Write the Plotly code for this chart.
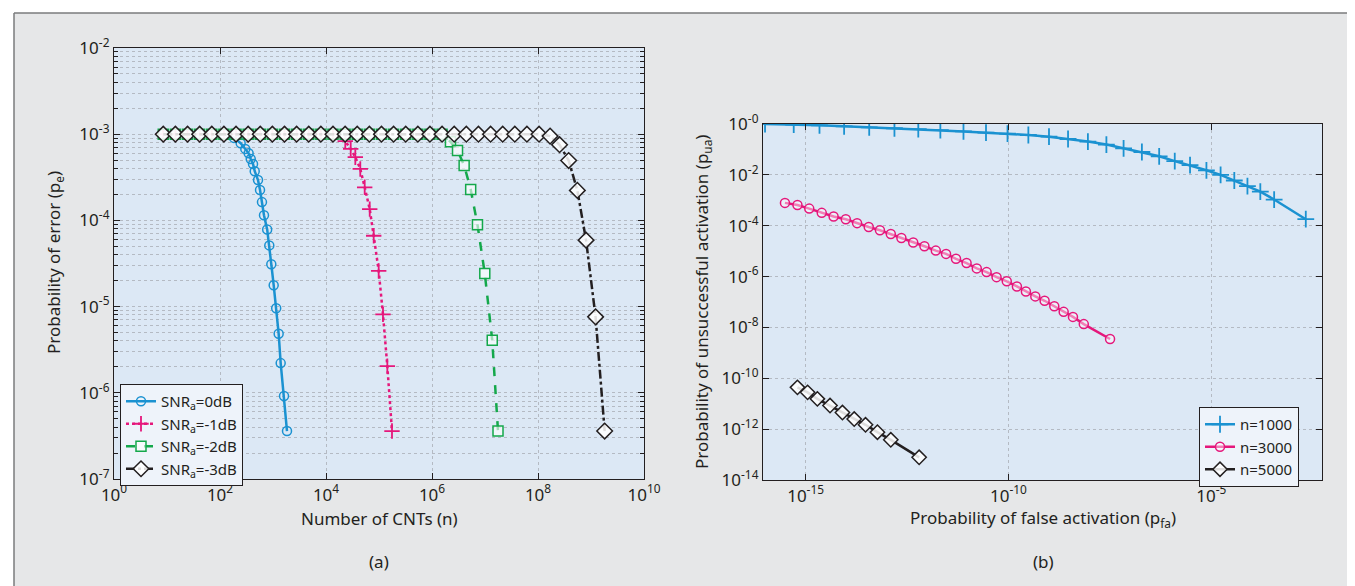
import plotly.graph_objects as go

# ---------------- data: panel (a) ----------------
n_snr0 = [8.5, 14.4, 24.4, 41.3, 70, 118.5,
          183.7, 245.5, 300, 346.7, 380, 419.8, 451.9, 521.2, 568.9, 619.4,
          676.1, 776.2, 851.1, 929, 1030, 1148, 1279, 1396, 1614, 1837]
pe_snr0 = [1e-3, 1e-3, 1e-3, 1e-3, 1e-3, 1e-3,
           9.06e-4, 7.85e-4, 6.75e-4, 6.01e-4, 5.16e-4, 4.52e-4, 3.72e-4, 2.94e-4,
           2.25e-4, 1.63e-4, 1.15e-4, 7.85e-5, 5.13e-5, 3.1e-5, 1.77e-5, 9.55e-6,
           4.85e-6, 2.21e-6, 9.16e-7, 3.6e-7]

n_snr1 = [8.5, 14.4, 24.4, 41.3, 70, 118.5, 200.6, 339.6, 575, 973, 1648, 2790,
          4724, 8000, 13550,
          23120, 29240, 35730, 44360, 53700, 66830, 79430, 98620, 118900, 143600, 175800]
pe_snr1 = [1e-3, 1e-3, 1e-3, 1e-3, 1e-3, 1e-3, 1e-3, 1e-3, 1e-3, 1e-3, 1e-3, 1e-3,
           1e-3, 1e-3, 1e-3,
           8.3e-4, 6.75e-4, 5.41e-4, 3.95e-4, 2.42e-4, 1.35e-4, 6.64e-5, 2.6e-5,
           8.13e-6, 2.04e-6, 3.6e-7]

n_snr2 = [8.5, 14.4, 24.4, 41.3, 70, 118.5, 200.6, 339.6, 575, 973, 1648, 2790,
          4724, 8000, 13550, 22950, 38800, 65800, 111400, 188400, 319200, 540800,
          914000, 1.549e6,
          2.23e6, 3.03e6, 4.04e6, 5.37e6, 7.21e6, 9.91e6, 1.37e7, 1.76e7]
pe_snr2 = [1e-3, 1e-3, 1e-3, 1e-3, 1e-3, 1e-3, 1e-3, 1e-3, 1e-3, 1e-3, 1e-3, 1e-3,
           1e-3, 1e-3, 1e-3, 1e-3, 1e-3, 1e-3, 1e-3, 1e-3, 1e-3, 1e-3,
           1e-3, 1e-3,
           8.18e-4, 6.49e-4, 4.34e-4, 2.29e-4, 8.9e-5, 2.42e-5, 4.06e-6, 3.6e-7]

n_snr3 = [8.5, 14.4, 24.4, 41.3, 70, 118.5, 200.6, 339.6, 575, 973, 1648, 2790,
          4724, 8000, 13550, 22950, 38800, 65800, 111400, 188400, 319200, 540800,
          914000, 1.549e6, 2.624e6, 4.44e6, 7.52e6, 1.274e7, 2.157e7, 3.65e7,
          6.18e7, 1.047e8,
          1.69e8, 2.55e8, 3.79e8, 5.53e8, 8.07e8, 1.22e9, 1.81e9]
pe_snr3 = [1e-3, 1e-3, 1e-3, 1e-3, 1e-3, 1e-3, 1e-3, 1e-3, 1e-3, 1e-3, 1e-3, 1e-3,
           1e-3, 1e-3, 1e-3, 1e-3, 1e-3, 1e-3, 1e-3, 1e-3, 1e-3, 1e-3,
           1e-3, 1e-3, 1e-3, 1e-3, 1e-3, 1e-3, 1e-3, 1e-3,
           1e-3, 1e-3,
           9.5e-4, 7.55e-4, 4.95e-4, 2.23e-4, 5.9e-5, 7.6e-6, 3.6e-7]

labels_a = ["SNR<sub>a</sub>=0dB", "SNR<sub>a</sub>=-1dB",
            "SNR<sub>a</sub>=-2dB", "SNR<sub>a</sub>=-3dB"]
xticks_a = [1e0, 1e2, 1e4, 1e6, 1e8, 1e10]
xticktext_a = ["10<sup>0</sup>", "10<sup>2</sup>", "10<sup>4</sup>",
               "10<sup>6</sup>", "10<sup>8</sup>", "10<sup>10</sup>"]
yticks_a = [1e-7, 1e-6, 1e-5, 1e-4, 1e-3, 1e-2]
yticktext_a = ["10<sup>-7</sup>", "10<sup>-6</sup>", "10<sup>-5</sup>",
               "10<sup>-4</sup>", "10<sup>-3</sup>", "10<sup>-2</sup>"]

# ---------------- data: panel (b) ----------------
pfa_n1000 = [1.0e-16, 5.1e-16, 2.2e-15, 8.9e-15, 3.7e-14, 1.55e-13, 6.0e-13, 2.1e-12,
             7.8e-12, 2.8e-11, 9.5e-11, 3.1e-10, 1.0e-9, 2.95e-9, 9.1e-9, 2.6e-8,
             6.9e-8, 1.95e-7, 5.2e-7, 1.26e-6, 3.0e-6, 7.6e-6, 1.7e-5, 3.7e-5,
             7.8e-5, 1.62e-4, 3.55e-4, 2.14e-3]
pua_n1000 = [1.0, 0.955, 0.89, 0.81, 0.74, 0.68, 0.63, 0.575, 0.51, 0.457, 0.417,
             0.37, 0.316, 0.257, 0.204, 0.155, 0.11, 0.0794, 0.0537, 0.0347, 0.024,
             0.0151, 0.01, 6.0e-3, 3.6e-3, 2.2e-3, 1.07e-3, 1.8e-4]

pfa_n3000 = [3.1e-16, 6.3e-16, 1.23e-15, 2.5e-15, 4.9e-15, 9.8e-15, 1.86e-14, 3.6e-14,
             6.8e-14, 1.26e-13, 2.3e-13, 4.5e-13, 8.5e-13, 1.62e-12, 2.9e-12, 5.1e-12,
             9.3e-12, 1.66e-11, 2.9e-11, 5.1e-11, 9.1e-11, 1.62e-10, 2.7e-10, 4.6e-10,
             7.8e-10, 1.35e-9, 2.3e-9, 3.9e-9, 7.2e-9, 3.2e-8]
pua_n3000 = [7.9e-4, 6.5e-4, 4.7e-4, 3.2e-4, 2.3e-4, 1.8e-4, 1.26e-4, 8.9e-5, 6.6e-5,
             4.7e-5, 3.3e-5, 2.2e-5, 1.55e-5, 1.05e-5, 7.8e-6, 5.0e-6, 3.4e-6, 2.1e-6,
             1.5e-6, 9.5e-7, 6.5e-7, 4.1e-7, 2.6e-7, 1.66e-7, 1.12e-7, 6.8e-8, 4.1e-8,
             2.6e-8, 1.35e-8, 3.5e-9]

pfa_n5000 = [6.3e-16, 1.12e-15, 1.95e-15, 4.0e-15, 8.1e-15, 1.58e-14, 3.0e-14, 5.9e-14,
             1.26e-13, 6.3e-13]
pua_n5000 = [4.4e-11, 2.8e-11, 1.55e-11, 8.5e-12, 4.5e-12, 2.5e-12, 1.48e-12, 7.6e-13,
             3.8e-13, 7.8e-14]

labels_b = ["n=1000", "n=3000", "n=5000"]
xticks_b = [1e-15, 1e-10, 1e-5]
xticktext_b = ["10<sup>-15</sup>", "10<sup>-10</sup>", "10<sup>-5</sup>"]
yticks_b = [1e-14, 1e-12, 1e-10, 1e-8, 1e-6, 1e-4, 1e-2, 1e0]
yticktext_b = ["10<sup>-14</sup>", "10<sup>-12</sup>", "10<sup>-10</sup>",
               "10<sup>-8</sup>", "10<sup>-6</sup>", "10<sup>-4</sup>",
               "10<sup>-2</sup>", "10<sup>-0</sup>"]

# ---------------- styling ----------------
W, H = 1355, 586
FONT = "Noto Sans"
TXT = "#231f20"
BLUE = "#1b92d1"
PINK = "#e5177b"
GREEN = "#14a84b"
BLACK = "#231f20"
PLOT_BG = "#dce8f5"
FIG_BG = "#e6e7e8"
GRID = "#b4bac3"

def px(x):
    return x / W

def py(y):
    return 1 - y / H

fig = go.Figure()

# panel (a)
fig.add_trace(go.Scatter(
    x=n_snr0, y=pe_snr0, name=labels_a[0], mode="lines+markers",
    line=dict(color=BLUE, width=2.5),
    marker=dict(symbol="circle-open", size=9, color=BLUE, line=dict(width=1.5)),
    xaxis="x", yaxis="y", legend="legend"))
fig.add_trace(go.Scatter(
    x=n_snr1, y=pe_snr1, name=labels_a[1], mode="lines+markers",
    line=dict(color=PINK, width=2.5, dash="dot"),
    marker=dict(symbol="cross-thin-open", size=11, color=PINK, line=dict(width=1.8, color=PINK)),
    xaxis="x", yaxis="y", legend="legend"))
fig.add_trace(go.Scatter(
    x=n_snr2, y=pe_snr2, name=labels_a[2], mode="lines+markers",
    line=dict(color=GREEN, width=2.5, dash="dash"),
    marker=dict(symbol="square", size=10, color="rgba(255,255,255,0.6)",
                line=dict(width=1.5, color=GREEN)),
    xaxis="x", yaxis="y", legend="legend"))
fig.add_trace(go.Scatter(
    x=n_snr3, y=pe_snr3, name=labels_a[3], mode="lines+markers",
    line=dict(color=BLACK, width=2.5, dash="dashdot"),
    marker=dict(symbol="diamond", size=12, color="rgba(255,255,255,0.85)",
                line=dict(width=1.5, color=BLACK)),
    xaxis="x", yaxis="y", legend="legend"))

# panel (b)
fig.add_trace(go.Scatter(
    x=pfa_n1000, y=pua_n1000, name=labels_b[0], mode="lines+markers",
    line=dict(color=BLUE, width=2.5),
    marker=dict(symbol="cross-thin-open", size=12, color=BLUE, line=dict(width=1.8, color=BLUE)),
    xaxis="x2", yaxis="y2", legend="legend2"))
fig.add_trace(go.Scatter(
    x=pfa_n3000, y=pua_n3000, name=labels_b[1], mode="lines+markers",
    line=dict(color=PINK, width=2.5),
    marker=dict(symbol="circle", size=9, color="rgba(255,255,255,0.45)",
                line=dict(width=1.5, color=PINK)),
    xaxis="x2", yaxis="y2", legend="legend2"))
fig.add_trace(go.Scatter(
    x=pfa_n5000, y=pua_n5000, name=labels_b[2], mode="lines+markers",
    line=dict(color=BLACK, width=2.5),
    marker=dict(symbol="diamond", size=11, color="rgba(255,255,255,0.85)",
                line=dict(width=1.5, color=BLACK)),
    xaxis="x2", yaxis="y2", legend="legend2"))

tickfont = dict(family=FONT, size=17, color=TXT)
common = dict(type="log", showline=True, linecolor=BLACK, linewidth=1.3,
              mirror="allticks", ticks="inside", ticklen=6, tickcolor=BLACK,
              tickwidth=1.2, showgrid=True, gridcolor=GRID, griddash="dot",
              gridwidth=1, zeroline=False, tickfont=tickfont, tickmode="array",
              automargin=False)

minor_a = [m * 10.0 ** e for e in range(-7, -2) for m in range(2, 10)]

fig.update_layout(
    width=W, height=H, margin=dict(l=0, r=0, t=0, b=0, pad=0, autoexpand=False),
    paper_bgcolor=FIG_BG, plot_bgcolor=PLOT_BG,
    font=dict(family=FONT, size=17, color=TXT),
    xaxis=dict(common, domain=[px(106), px(636)], range=[0, 10], anchor="y",
               tickvals=xticks_a, ticktext=xticktext_a),
    yaxis=dict(common, domain=[py(471), py(40)], range=[-7, -2], anchor="x",
               tickvals=yticks_a, ticktext=yticktext_a,
               minor=dict(tickmode="array", tickvals=minor_a, ticks="inside",
                          ticklen=4, tickcolor=BLACK, showgrid=True,
                          gridcolor=GRID, griddash="dot", gridwidth=1)),
    xaxis2=dict(common, domain=[px(755), px(1314)], range=[-16.05, -2.27], anchor="y2",
                tickvals=xticks_b, ticktext=xticktext_b),
    yaxis2=dict(common, domain=[py(472), py(116)], range=[-14, 0], anchor="x2",
                tickvals=yticks_b, ticktext=yticktext_b),
    legend=dict(x=px(112), y=py(376), xanchor="left", yanchor="top",
                bgcolor="#eef3fa", bordercolor=BLACK, borderwidth=1,
                font=dict(family=FONT, size=15, color=TXT),
                tracegroupgap=0, itemwidth=30),
    legend2=dict(x=px(1191), y=py(399), xanchor="left", yanchor="top",
                 bgcolor="#eef3fa", bordercolor=BLACK, borderwidth=1,
                 font=dict(family=FONT, size=15, color=TXT),
                 tracegroupgap=0, itemwidth=30),
    showlegend=True,
)

ann = [
    dict(text="Number of CNTs (n)", x=px(371), y=py(510)),
    dict(text="(a)", x=px(371), y=py(553)),
    dict(text="Probability of error (p<sub>e</sub>)", x=px(47), y=py(255), textangle=-90),
    dict(text="Probability of false activation (p<sub>fa</sub>)", x=px(1035), y=py(510)),
    dict(text="(b)", x=px(1035), y=py(553)),
    dict(text="Probability of unsuccessful activation (p<sub>ua</sub>)", x=px(694), y=py(294), textangle=-90),
]
for a in ann:
    fig.add_annotation(xref="paper", yref="paper", showarrow=False,
                       xanchor="center", yanchor="middle",
                       font=dict(family=FONT, size=17, color=TXT), **a)

# figure frame: white outside, grey border line
for (x0, y0, x1, y1) in [(0, 0, 6, H), (0, 0, W, 5), (1347, 0, W, H)]:
    fig.add_shape(type="rect", xref="paper", yref="paper",
                  x0=px(x0), x1=px(x1), y0=py(y1), y1=py(y0),
                  fillcolor="white", line=dict(width=0), layer="above")
for (x0, y0, x1, y1) in [(6, 5, 6, H), (6, 5, 1347, 5), (1347, 5, 1347, H)]:
    fig.add_shape(type="line", xref="paper", yref="paper",
                  x0=px(x0), x1=px(x1), y0=py(y0), y1=py(y1),
                  line=dict(color="#7a7b7d", width=1.5), layer="above")

fig.write_html("out.html")
